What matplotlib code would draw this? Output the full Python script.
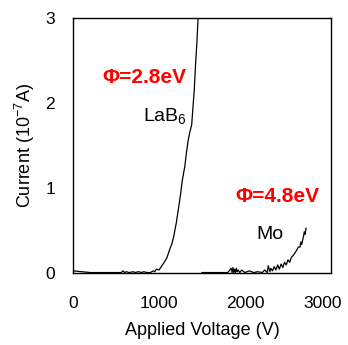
import numpy as np
from matplotlib import pyplot as plt
from matplotlib import transforms

plt.rcParams['font.family'] = ['Liberation Sans', 'DejaVu Sans']
plt.rcParams['mathtext.fontset'] = 'custom'
plt.rcParams['mathtext.rm'] = 'Liberation Sans'
plt.rcParams['mathtext.it'] = 'Liberation Sans'
plt.rcParams['mathtext.default'] = 'regular'

# LaB6 emission curve (V, 1e-7 A)
lab6_v = [0, 200, 400, 560, 580, 600, 620, 650, 700, 720, 760, 800, 820, 860, 900,
          930, 950, 970, 1000, 1020, 1040, 1060, 1090, 1120, 1150, 1170, 1200, 1230,
          1250, 1270, 1300, 1320, 1340, 1360, 1380, 1395, 1410, 1425, 1440, 1450, 1460]
lab6_i = [0.02, 0.0, 0.0, 0.0, 0.02, 0.0, 0.01, 0.0, 0.01, 0.0, 0.01, 0.0, 0.01, 0.0, 0.0,
          0.02, 0.01, 0.04, 0.03, 0.06, 0.09, 0.12, 0.17, 0.26, 0.34, 0.42, 0.58, 0.78,
          0.92, 1.08, 1.25, 1.42, 1.56, 1.66, 1.74, 1.95, 2.15, 2.45, 2.7, 2.9, 3.1]

# Mo emission curve
mo_v = [1500, 1800, 1840, 1850, 1860, 1870, 1880, 1890, 1900, 1910, 1920, 1940, 1960,
        2000, 2050, 2100, 2150, 2200, 2230, 2260, 2270, 2290, 2300, 2320, 2340, 2360,
        2380, 2400, 2420, 2440, 2460, 2480, 2500, 2520, 2540, 2560, 2580, 2600, 2620,
        2640, 2650, 2660, 2670, 2680, 2690, 2700, 2710]
mo_i = [0.0, 0.0, 0.05, 0.0, 0.06, 0.0, 0.04, 0.0, 0.05, 0.01, 0.03, 0.0, 0.03,
        0.0, 0.02, 0.0, 0.01, 0.0, 0.03, 0.0, 0.08, 0.01, 0.05, 0.02, 0.07, 0.03,
        0.09, 0.04, 0.1, 0.06, 0.12, 0.09, 0.15, 0.12, 0.18, 0.2, 0.23, 0.26, 0.3,
        0.3, 0.36, 0.33, 0.38, 0.42, 0.48, 0.45, 0.52]

fig, ax = plt.subplots(figsize=(3.48, 3.45), dpi=100)
fig.subplots_adjust(left=0.21, right=0.951, top=0.949, bottom=0.21)

ax.plot(lab6_v, lab6_i, color='black', lw=0.9)
ax.plot(mo_v, mo_i, color='black', lw=0.9)

ax.set_xlim(0, 3000)
ax.set_ylim(0, 3)
ax.set_xticks([0, 1000, 2000, 3000])
ax.set_yticks([0, 1, 2, 3])
ax.tick_params(length=0, labelsize=12.5)
ax.tick_params(axis='x', pad=17)
ax.tick_params(axis='y', pad=13)
for s in ax.spines.values():
    s.set_linewidth(1.0)

# pull the last x tick label slightly inward so it stays in the frame
last = ax.get_xticklabels()[-1]
last.set_transform(last.get_transform() +
                   transforms.ScaledTranslation(-6 / 72, 0, fig.dpi_scale_trans))

ax.set_xlabel('Applied Voltage (V)', fontsize=13, labelpad=8)
ax.set_ylabel('Current (10$^{-7}$A)', fontsize=13, labelpad=6)

ax.text(824, 2.29, 'Φ=2.8eV', color='#ff0000', fontsize=15, fontweight='bold',
        ha='center', va='center')
ax.text(1069, 1.84, 'LaB$_6$', color='black', fontsize=14, ha='center', va='center')
ax.text(2378, 0.89, 'Φ=4.8eV', color='#ff0000', fontsize=15, fontweight='bold',
        ha='center', va='center')
ax.text(2293, 0.45, 'Mo', color='black', fontsize=14, ha='center', va='center')

fig.savefig('out.png', dpi=100)
